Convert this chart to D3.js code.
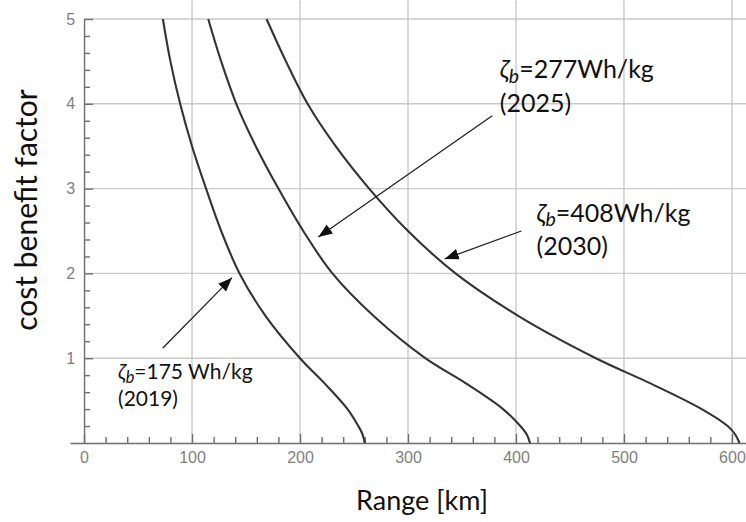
<!DOCTYPE html>
<html>
<head>
<meta charset="utf-8">
<script src="https://cdn.jsdelivr.net/npm/d3@7"></script>
<style>
  body { margin: 0; background: #fff; }
  text { font-family: Lato, "Open Sans", sans-serif; }
</style>
</head>
<body>
<div id="chart"></div>
<script>
const width = 746;
const height = 522;

// cost benefit factor levels (shared by the three curves)
const factor = [5, 4.5, 4, 3.5, 3, 2.5, 2, 1.5, 1, 0.7, 0.4, 0.2, 0.1, 0];
// range [km] at those levels
const range2019 = [73, 80, 89, 100, 113, 127, 144, 168, 200, 223, 244, 254, 258, 260];
const range2025 = [115, 127, 141, 159, 180, 203, 230, 268, 316, 354, 388, 404, 410, 413];
const range2030 = [169, 187, 207, 233, 264, 300, 344, 402, 474, 525, 572, 596, 603, 607];

const rangeTicks = [0, 100, 200, 300, 400, 500, 600];
const factorTicks = [1, 2, 3, 4, 5];

// annotation labels: [range, factor] of text start, arrow start, arrow tip
const labels = [
    { value: "175 Wh/kg", year: "(2019)", size: 21, at: [31.5, 0.755], gap: 0.32, from: [73, 1.12], to: [137, 1.95] },
    { value: "277Wh/kg", year: "(2025)", size: 25, at: [385, 4.30], gap: 0.40, from: [378, 3.86], to: [217, 2.43] },
    { value: "408Wh/kg", year: "(2030)", size: 25, at: [419, 2.61], gap: 0.39, from: [405, 2.50], to: [334, 2.17] }
];

const svg = d3.select("#chart")
    .append("svg")
    .attr("width", width)
    .attr("height", height);

const xScale = d3.scaleLinear()
    .domain([-13, 613])
    .range([70, 746]);

const yScale = d3.scaleLinear()
    .domain([0, 5])
    .range([443, 19]);

// grid
svg.append("g")
    .selectAll("line")
    .data(rangeTicks.slice(1))
    .join("line")
    .attr("x1", d => xScale(d))
    .attr("x2", d => xScale(d))
    .attr("y1", yScale(0))
    .attr("y2", yScale(5.22))
    .attr("stroke", "#c9c9c9")
    .attr("stroke-width", 1.4);

svg.append("g")
    .selectAll("line")
    .data(factorTicks)
    .join("line")
    .attr("x1", xScale(0))
    .attr("x2", width)
    .attr("y1", d => yScale(d))
    .attr("y2", d => yScale(d))
    .attr("stroke", "#c9c9c9")
    .attr("stroke-width", 1.4);

// axes, ticks point inwards
const minorX = d3.range(0, 620, 20).filter(d => d % 100 !== 0);
const minorY = d3.range(0.2, 5, 0.2).filter(d => Math.abs(d - Math.round(d)) > 1e-6);

function styleAxis(g) {
    g.selectAll("path, line").attr("stroke", "#6e6e6e").attr("stroke-width", 1.4);
    g.selectAll("text")
        .attr("fill", "#808080")
        .style("font-family", "'Liberation Sans', Arial, sans-serif")
        .style("font-size", "16px");
}

svg.append("g")
    .attr("transform", `translate(0,${yScale(0)})`)
    .call(d3.axisBottom(xScale).tickValues(minorX).tickSizeInner(-6).tickSizeOuter(0).tickFormat(""))
    .call(styleAxis);

svg.append("g")
    .attr("transform", `translate(0,${yScale(0)})`)
    .call(d3.axisBottom(xScale).tickValues(rangeTicks).tickSizeInner(-9).tickSizeOuter(0).tickPadding(9))
    .call(g => g.select(".domain").remove())
    .call(styleAxis);

svg.append("g")
    .attr("transform", `translate(${xScale(0)},0)`)
    .call(d3.axisLeft(yScale).tickValues(minorY).tickSizeInner(-6).tickSizeOuter(0).tickFormat(""))
    .call(styleAxis);

svg.append("g")
    .attr("transform", `translate(${xScale(0)},0)`)
    .call(d3.axisLeft(yScale).tickValues(factorTicks).tickSizeInner(-9).tickSizeOuter(0)
        .tickPadding(9).tickFormat(d3.format("d")))
    .call(g => g.select(".domain").remove())
    .call(styleAxis);

// curves
const line = d3.line()
    .x(d => xScale(d[0]))
    .y(d => yScale(d[1]))
    .curve(d3.curveCatmullRom.alpha(0.5));

[range2019, range2025, range2030].forEach(r => {
    svg.append("path")
        .datum(r.map((v, i) => [v, factor[i]]))
        .attr("fill", "none")
        .attr("stroke", "#333")
        .attr("stroke-width", 2.1)
        .attr("d", line);
});

// arrows and labels
svg.append("defs").append("marker")
    .attr("id", "head")
    .attr("markerUnits", "userSpaceOnUse")
    .attr("viewBox", "0 -6 14 12")
    .attr("refX", 14)
    .attr("refY", 0)
    .attr("markerWidth", 14)
    .attr("markerHeight", 12)
    .attr("orient", "auto")
    .append("path")
    .attr("d", "M0,-5.5L14,0L0,5.5Z")
    .attr("fill", "#111");

labels.forEach(l => {
    svg.append("line")
        .attr("x1", xScale(l.from[0]))
        .attr("y1", yScale(l.from[1]))
        .attr("x2", xScale(l.to[0]))
        .attr("y2", yScale(l.to[1]))
        .attr("stroke", "#222")
        .attr("stroke-width", 1.3)
        .attr("marker-end", "url(#head)");

    const t = svg.append("text")
        .attr("x", xScale(l.at[0]))
        .attr("y", yScale(l.at[1]))
        .attr("fill", "#111")
        .style("font-size", l.size + "px");
    t.append("tspan").text("ζ").style("font-style", "italic");
    t.append("tspan").text("b").style("font-style", "italic")
        .style("font-size", (l.size * 0.78) + "px").attr("dy", l.size * 0.18);
    t.append("tspan").text("=" + l.value).attr("dy", -l.size * 0.18);

    svg.append("text")
        .attr("x", xScale(l.at[0]))
        .attr("y", yScale(l.at[1] - l.gap))
        .attr("fill", "#111")
        .style("font-size", l.size + "px")
        .text(l.year);
});

// axis titles
svg.append("text")
    .attr("x", 422)
    .attr("y", 510)
    .attr("text-anchor", "middle")
    .attr("fill", "#111")
    .style("font-size", "27px")
    .text("Range [km]");

svg.append("text")
    .attr("transform", "translate(37,210) rotate(-90)")
    .attr("text-anchor", "middle")
    .attr("fill", "#111")
    .style("font-size", "30px")
    .text("cost benefit factor");
</script>
</body>
</html>
